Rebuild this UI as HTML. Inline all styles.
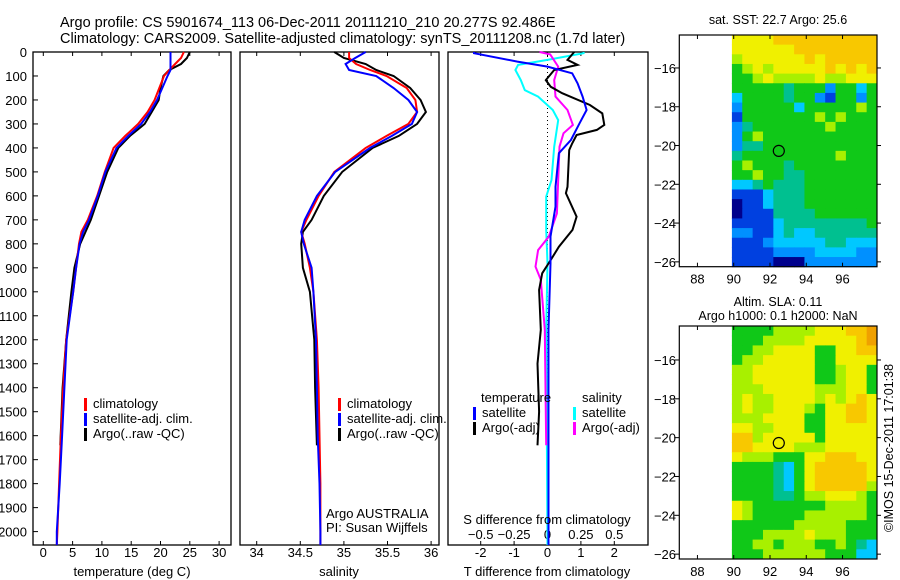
<!DOCTYPE html>
<html><head><meta charset="utf-8">
<style>
html,body{margin:0;padding:0;background:#fff;}
svg{display:block;font-family:"Liberation Sans",sans-serif;}
</style></head>
<body>
<svg id="fig" width="900" height="580" viewBox="0 0 900 580" xmlns="http://www.w3.org/2000/svg">
<rect width="900" height="580" fill="#fff"/>
<text x="60" y="27" font-size="14.5">Argo profile: CS 5901674_113 06-Dec-2011 20111210_210 20.277S 92.486E</text>
<text x="60" y="43" font-size="14.5">Climatology: CARS2009. Satellite-adjusted climatology: synTS_20111208.nc (1.7d later)</text>
<g id="g"></g>
</svg>
<script>
// ---- profile data ----
const depthClim = [0,25,50,75,100,150,200,250,300,350,400,500,600,700,750,800,900,1000,1200,1400,1600,1800,2000,2056];
const tempClim = [24,23.5,22.5,21.5,20.6,19.8,19,17.8,16.2,14,12,10.5,9.2,7.6,6.5,6.1,5.6,5.1,3.9,3.4,3.0,2.7,2.4,2.3];
const tempSat = [21.7,21.7,21.7,21.7,21.2,20.3,19.4,18.2,16.7,14.5,12.5,10.6,9.3,7.8,6.8,6.2,5.6,5.1,4.0,3.6,3.2,2.8,2.3,2.3];
const depthArgo = [0,25,50,75,100,150,200,250,300,350,400,500,600,700,750,800,900,1000,1200,1400,1640];
const tempArgo = [25,24.5,23.5,21.5,20.5,20,19.7,18.5,17.3,14.8,12.8,10.9,9.5,8.1,7.2,6.3,5.3,4.8,3.9,3.3,2.9];
const salClim = [35.06,35.06,35.14,35.3,35.49,35.72,35.82,35.84,35.74,35.49,35.25,34.89,34.71,34.57,34.51,34.55,34.61,34.65,34.69,34.71,34.72,34.73,34.73,34.73];
const salSat = [35.25,35.13,35.02,35.06,35.37,35.57,35.74,35.84,35.78,35.55,35.3,34.9,34.69,34.55,34.51,34.54,34.63,34.65,34.68,34.69,34.7,34.72,34.73,34.73];
const salArgo = [34.89,35.0,35.25,35.37,35.57,35.76,35.88,35.94,35.84,35.63,35.33,34.98,34.77,34.63,34.53,34.51,34.53,34.61,34.66,34.67,34.69];
// ---- difference data ----
const dTsatDepth = [0,5,40,61,89,131,186,242,297,367,422,562,645,770,881,1159,1600,2056];
const dTsat = [-2.2,-2.2,-0.9,0,0.74,0.9,1.05,1.17,0.96,0.7,0.34,0.24,0.24,0.09,0.09,0.03,0.03,0.03];
const dTargoDepth = [0,33,54,75,117,145,172,221,256,304,325,346,381,409,562,589,687,742,812,867,923,992,1159,1300,1500,1640];
const dTargo = [0.8,0.6,0.9,0.2,-0.05,0.1,0.44,1.27,1.64,1.7,1.48,0.87,0.74,0.65,0.6,0.55,0.87,0.75,0.34,0.1,-0.16,-0.25,-0.2,-0.3,-0.25,-0.3];
const dSsatDepth = [0,5,33,54,75,117,159,186,242,284,395,534,603,742,881,1159,2056];
const dSsat = [0.27,0.27,0,-0.22,-0.24,-0.2,-0.17,-0.07,0.04,0.08,0.05,0.03,-0.01,-0.01,0,-0.01,0];
const dSargoDepth = [0,10,61,117,186,242,304,339,395,534,673,770,826,895,950,1159,1640];
const dSargo = [-0.06,0.02,0.08,0.05,0.06,0.15,0.19,0.12,0.09,0.08,0.07,0.01,-0.07,-0.09,-0.05,-0.02,-0.01];
const depthTicks = [0,100,200,300,400,500,600,700,800,900,1000,1100,1200,1300,1400,1500,1600,1700,1800,1900,2000];
const tempTicks = [0,5,10,15,20,25,30];
const salTicks = [34,34.5,35,35.5,36];
const dTTicks = [-2,-1,0,1,2];
const dSTicks = [-0.5,-0.25,0,0.25,0.5];
// ---- map data (rows from north to south, cols west to east, colour index 0-9) ----
const sstGrid = [
"77778888888888","77777788888888","67777778788888","56767777787878","55676666766777",
"55555455525535","35555455215525","25555535555565","15555555656555","24555555565555",
"25655555555555","24455555555555","45555555556555","56555455555555","55655445555555",
"33454445555555","11134445555555","01134445555555","01114444555555","11113444444445",
"22113433444444","11123333344333","11112222333322","11110002222222"];
const slaGrid = [
"55556666777889","55566667777789","55667777557788","56677777557777","66777777556775",
"66777777556775","66677777666775","67667777676787","67667776577887","66677775577887",
"77667775577777","88677777577777","88777766677777","76665557788877","55554357888887",
"55554357888887","55554357888886","55554456677765","76555555566665","76555556666665",
"55555566666555","55566667666555","55665666556543","55566666655533"];
const mapLonTicks = [88,90,92,94,96];
const mapLatTicks = [-16,-18,-20,-22,-24,-26];
const floatLon = 92.486, floatLat = -20.277;

const NS="http://www.w3.org/2000/svg";
const G=document.getElementById('g');
function el(tag,attrs,parent){const e=document.createElementNS(NS,tag);for(const k in attrs)e.setAttribute(k,attrs[k]);(parent||G).appendChild(e);return e;}
function txt(x,y,s,size,anchor,parent){const t=el('text',{x:x,y:y,'font-size':size||13,'text-anchor':anchor||'start'},parent);t.textContent=s;return t;}

const Y0=52, YS=0.2398, BOT=545;
const yD=d=>Y0+d*YS;
const xT=v=>43.3+v*5.86;
const xS=v=>256.7+(v-34)*87.2;
const xDT=v=>547.5+v*33.4;
const xDS=v=>547.5+v*133.6;

function panel(name,x0,x1){
  const g=el('g',{});
  
  
  el('rect',{x:x0,y:Y0,width:x1-x0,height:BOT-Y0,fill:'none',stroke:'#000','stroke-width':1.3},g);
  return g;
}
function line(g,name,xs,ds,fx,color,w){
  const p=xs.map((v,i)=>fx(v).toFixed(1)+','+yD(ds[i]).toFixed(1)).join(' ');
  const l=el('polyline',{points:p,fill:'none',stroke:color,'stroke-width':w||2},g);
  
  
}
function xticks(g,ticks,fx,labels,ly){
  ticks.forEach((t,i)=>{const x=fx(t);
    el('line',{x1:x,x2:x,y1:BOT,y2:BOT-4,stroke:'#000'},g);
    el('line',{x1:x,x2:x,y1:Y0,y2:Y0+4,stroke:'#000'},g);
    if(labels){const lt=txt(x,ly,labels[i],13,'middle',g);
      
      }
  });
}
function legend(g,x,y,items){
  items.forEach((it,i)=>{
    el('rect',{x:x,y:y+i*15-10,width:3,height:13,fill:it[1]},g);
    const t=txt(x+9,y+i*15,it[0],13,'start',g);
    
    
  });
}

// Temperature panel
const p1=panel('temperature-panel',33,231);
depthTicks.forEach(d=>{const y=yD(d);el('line',{x1:33,x2:38,y1:y,y2:y,stroke:'#000'},p1);
  const t=txt(27,y+5,String(d),13,'end',p1);
  
  });
xticks(p1,tempTicks,xT,tempTicks.map(String),557);
line(p1,'temp-argo-line',tempArgo,depthArgo,xT,'#000');
line(p1,'temp-climatology-line',tempClim,depthClim,xT,'#f00');
line(p1,'temp-satellite-line',tempSat,depthClim,xT,'#00f');
legend(p1,84,408,[['climatology','#f00'],['satellite-adj. clim.','#00f'],['Argo(..raw -QC)','#000']]);
const t1=txt(132,576,'temperature (deg C)',13,'middle',p1);

// Salinity panel
const p2=panel('salinity-panel',240,439);
xticks(p2,salTicks,xS,salTicks.map(String),557);
line(p2,'sal-argo-line',salArgo,depthArgo,xS,'#000');
line(p2,'sal-climatology-line',salClim,depthClim,xS,'#f00');
line(p2,'sal-satellite-line',salSat,depthClim,xS,'#00f');
legend(p2,338,408,[['climatology','#f00'],['satellite-adj. clim.','#00f'],['Argo(..raw -QC)','#000']]);
const a1=txt(326,518,'Argo AUSTRALIA',13,'start',p2);
const a2=txt(326,532,'PI: Susan Wijffels',13,'start',p2);
const t2=txt(339,576,'salinity',13,'middle',p2);

// Difference panel
const p3=panel('difference-panel',448,648);
el('line',{x1:xDT(0),x2:xDT(0),y1:Y0,y2:BOT,stroke:'#000','stroke-dasharray':'1,3'},p3);
xticks(p3,dTTicks,xDT,dTTicks.map(String),557);
dSTicks.forEach(t=>{const lt=txt(xDS(t),539,String(t).replace('-','\u2212'),13,'middle',p3);
  
  });
line(p3,'sdiff-satellite-line',dSsat,dSsatDepth,xDS,'#0ff');
line(p3,'sdiff-argo-line',dSargo,dSargoDepth,xDS,'#f0f');
line(p3,'tdiff-argo-line',dTargo,dTargoDepth,xDT,'#000');
line(p3,'tdiff-satellite-line',dTsat,dTsatDepth,xDT,'#00f');
const lh1=txt(481,402,'temperature',13,'start',p3);
const lh2=txt(582,402,'salinity',13,'start',p3);
legend(p3,473,417,[['satellite','#00f'],['Argo(-adj)','#000']]);
legend(p3,573,417,[['satellite','#0ff'],['Argo(-adj)','#f0f']]);
const t3=txt(547,524,'S difference from climatology',13,'middle',p3);
const t4=txt(547,576,'T difference from climatology',13,'middle',p3);

// Maps
const CMAP=['#00008c','#0040e0','#0090ff','#00c8ff','#00c090','#10c818','#a8f000','#f0f000','#f8c800','#f0a000'];
const LON0=87.0, LON1=97.9, MX0=679.3, MX1=877;
const xLon=l=>MX0+(l-LON0)*(MX1-MX0)/(LON1-LON0);
function map(name,top,bot,latTop,latBot,grid,title1,title2){
  const g=el('g',{});
  
  
  const yLat=v=>top+(latTop-v)*(bot-top)/(latTop-latBot);
  const nr=grid.length, nc=grid[0].length;
  const cw=(xLon(97.9)-xLon(89.9))/nc, ch=(bot-top)/nr;
  grid.forEach((row,r)=>{for(let c=0;c<nc;c++){
    el('rect',{x:(xLon(89.9)+c*cw).toFixed(2),y:(top+r*ch).toFixed(2),width:(cw+0.5).toFixed(2),height:(ch+0.5).toFixed(2),fill:CMAP[+row[c]]},g);}});
  el('rect',{x:MX0,y:top,width:MX1-MX0,height:bot-top,fill:'none',stroke:'#000','stroke-width':1.2},g);
  mapLonTicks.forEach(l=>{const x=xLon(l);
    el('line',{x1:x,x2:x,y1:bot,y2:bot-4,stroke:'#000'},g);
    el('line',{x1:x,x2:x,y1:top,y2:top+4,stroke:'#000'},g);
    const t=txt(x,bot+17,String(l),13,'middle',g);
    
    });
  mapLatTicks.forEach(v=>{const y=yLat(v);
    el('line',{x1:MX0-5,x2:MX0,y1:y,y2:y,stroke:'#000'},g);
    el('line',{x1:MX1,x2:MX1+4,y1:y,y2:y,stroke:'#000'},g);
    const t=txt(676,y+5,String(v).replace('-','\u2212'),13,'end',g);
    
    });
  const c=el('circle',{cx:xLon(floatLon),cy:yLat(floatLat),r:5.5,fill:'none',stroke:'#000','stroke-width':1.2},g);
  
  
  if(title2){const a=txt(778,top-20,title1,12.5,'middle',g);
    const b=txt(778,top-6,title2,12.5,'middle',g);}
  else{const a=txt(778,top-11,title1,12.5,'middle',g);}
}
map('sst-map',35,266.7,-14.3,-26.25,sstGrid,'sat. SST: 22.7 Argo: 25.6');
map('sla-map',326,559,-14.25,-26.25,slaGrid,'Altim. SLA: 0.11','Argo h1000: 0.1 h2000: NaN');
const cr=txt(0,0,'\u00A9IMOS 15-Dec-2011 17:01:38',12.5,'middle');
cr.setAttribute('transform','translate(893,448) rotate(-90)');


</script>
</body></html>
